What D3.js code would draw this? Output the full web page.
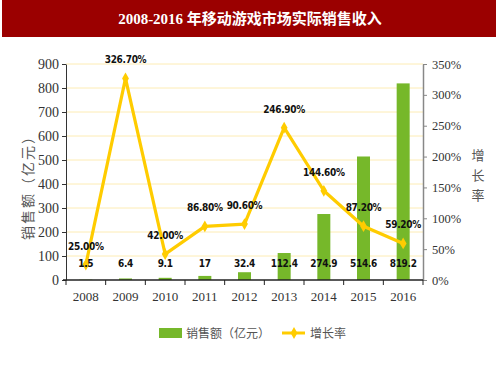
<!DOCTYPE html>
<html>
<head>
<meta charset="utf-8">
<script src="https://cdn.jsdelivr.net/npm/d3@7"></script>
<style>
  body { margin: 0; background: #fff; }
  .tick text { font-family: "Liberation Serif", "Times New Roman", serif; font-size: 14px; fill: #333; }
  .lbl { font-family: "Liberation Sans Narrow", "DejaVu Sans Condensed", sans-serif; font-weight: bold; font-size: 10px; letter-spacing: -0.3px; fill: #111; }
  .cjk { font-family: "Noto Sans CJK SC", sans-serif; fill: #555; }
</style>
</head>
<body>
<div id="chart"></div>
<script>
var years = ["2008", "2009", "2010", "2011", "2012", "2013", "2014", "2015", "2016"];
var sales = [1.5, 6.4, 9.1, 17, 32.4, 112.4, 274.9, 514.6, 819.2];
var growth = [25.0, 326.7, 42.0, 86.8, 90.6, 246.9, 144.6, 87.2, 59.2];
var salesTicks = [0, 100, 200, 300, 400, 500, 600, 700, 800, 900];
var growthTicks = [0, 50, 100, 150, 200, 250, 300, 350];

var width = 500, height = 375;
var plotLeft = 66, plotRight = 423, plotTop = 64, plotBottom = 280;

var svg = d3.select('#chart')
  .append('svg')
  .attr('width', width)
  .attr('height', height)

// title bar
svg.append('rect')
  .attr('x', 2).attr('y', 0)
  .attr('width', 494).attr('height', 37)
  .attr('fill', '#9b0000')
svg.append('text')
  .attr('x', 250).attr('y', 24)
  .attr('text-anchor', 'middle')
  .style('font-family', '"Liberation Serif", "Noto Sans CJK SC", serif')
  .style('font-weight', 'bold')
  .style('font-size', '15px')
  .attr('fill', '#fff')
  .text('2008-2016 年移动游戏市场实际销售收入')

var xc = d3.scaleBand().domain(years).range([plotLeft, plotRight]);
var y = d3.scaleLinear().domain([0, 900]).range([plotBottom, plotTop]);
var y2 = d3.scaleLinear().domain([0, 350]).range([plotBottom, plotTop]);
var cx = d => xc(d) + xc.bandwidth() / 2;

// grid
svg.append('g')
  .selectAll('line')
  .data(salesTicks.slice(1))
  .join('line')
  .attr('x1', plotLeft).attr('x2', plotRight)
  .attr('y1', d => y(d)).attr('y2', d => y(d))
  .attr('stroke', '#fdecb4')
  .attr('stroke-width', 1)

// bars
svg.append('g')
  .selectAll('rect')
  .data(sales)
  .join('rect')
  .attr('x', (d, i) => cx(years[i]) - 6.5)
  .attr('width', 13)
  .attr('y', d => y(d))
  .attr('height', d => plotBottom - y(d))
  .attr('fill', '#76b82a')

// axes
var yAxis = svg.append('g')
  .attr('transform', 'translate(' + plotLeft + ',0)')
  .call(d3.axisLeft(y).tickValues(salesTicks).tickSize(4).tickSizeOuter(0))
yAxis.select('.domain').attr('stroke', '#333')
yAxis.selectAll('.tick line').attr('stroke', '#333')

var y2Axis = svg.append('g')
  .attr('transform', 'translate(' + plotRight + ',0)')
  .call(d3.axisRight(y2).tickValues(growthTicks).tickSize(4).tickSizeOuter(0).tickFormat(d => d + '%'))
y2Axis.select('.domain').attr('stroke', '#888').attr('stroke-width', 1.5)
y2Axis.selectAll('.tick line').attr('stroke', '#888')
y2Axis.selectAll('.tick text').attr('x', 9).style('font-size', '12.5px')

var xAxis = svg.append('g')
  .attr('transform', 'translate(0,' + plotBottom + ')')
  .call(d3.axisBottom(xc).tickSize(0).tickPadding(12))
xAxis.select('.domain').attr('stroke', '#222').attr('stroke-width', 1.5)
  .attr('d', 'M' + (plotLeft - 3) + ',0H' + plotRight)
xAxis.selectAll('.tick text').style('font-size', '13px')
xAxis.append('g')
  .selectAll('line')
  .data(d3.range(years.length + 1))
  .join('line')
  .attr('x1', i => plotLeft + i * xc.step()).attr('x2', i => plotLeft + i * xc.step())
  .attr('y1', 0).attr('y2', 5)
  .attr('stroke', '#222')

// growth line
var line = d3.line()
  .x((d, i) => cx(years[i]))
  .y(d => y2(d))
svg.append('path')
  .datum(growth)
  .attr('d', line)
  .attr('fill', 'none')
  .attr('stroke', '#ffcc00')
  .attr('stroke-width', 3.2)
  .attr('stroke-linejoin', 'round')

svg.append('g')
  .selectAll('path')
  .data(growth)
  .join('path')
  .attr('d', d3.symbol().type(d3.symbolDiamond).size(40))
  .attr('transform', (d, i) => 'translate(' + cx(years[i]) + ',' + y2(d) + ')')
  .attr('fill', '#ffcc00')

// labels
svg.append('g')
  .selectAll('text')
  .data(growth)
  .join('text')
  .attr('class', 'lbl')
  .attr('x', (d, i) => cx(years[i]))
  .attr('y', d => y2(d) - 15)
  .attr('text-anchor', 'middle')
  .text(d => d.toFixed(2) + '%')

svg.append('g')
  .selectAll('text')
  .data(sales)
  .join('text')
  .attr('class', 'lbl')
  .attr('x', (d, i) => cx(years[i]))
  .attr('y', plotBottom - 13)
  .attr('text-anchor', 'middle')
  .text(d => d)

// axis titles
svg.append('text')
  .attr('class', 'cjk')
  .attr('transform', 'translate(33,' + ((plotTop + plotBottom) / 2 + 12) + ') rotate(-90)')
  .attr('text-anchor', 'middle')
  .style('font-size', '14px')
  .style('letter-spacing', '2px')
  .text('销售额（亿元）')

svg.append('g')
  .selectAll('text')
  .data(['增', '长', '率'])
  .join('text')
  .attr('class', 'cjk')
  .attr('x', 478)
  .attr('y', (d, i) => 160 + i * 20)
  .attr('text-anchor', 'middle')
  .style('font-size', '13px')
  .text(d => d)

// legend
var legend = svg.append('g')
legend.append('rect')
  .attr('x', 159).attr('y', 328).attr('width', 23).attr('height', 10)
  .attr('fill', '#76b82a')
legend.append('text')
  .attr('class', 'cjk')
  .attr('x', 186).attr('y', 338)
  .style('font-size', '12px')
  .text('销售额（亿元）')
legend.append('line')
  .attr('x1', 282).attr('x2', 305).attr('y1', 333).attr('y2', 333)
  .attr('stroke', '#ffcc00').attr('stroke-width', 3)
legend.append('path')
  .attr('d', d3.symbol().type(d3.symbolDiamond).size(40))
  .attr('transform', 'translate(294,333)')
  .attr('fill', '#ffcc00')
legend.append('text')
  .attr('class', 'cjk')
  .attr('x', 310).attr('y', 338)
  .style('font-size', '12px')
  .text('增长率')
</script>
</body>
</html>
